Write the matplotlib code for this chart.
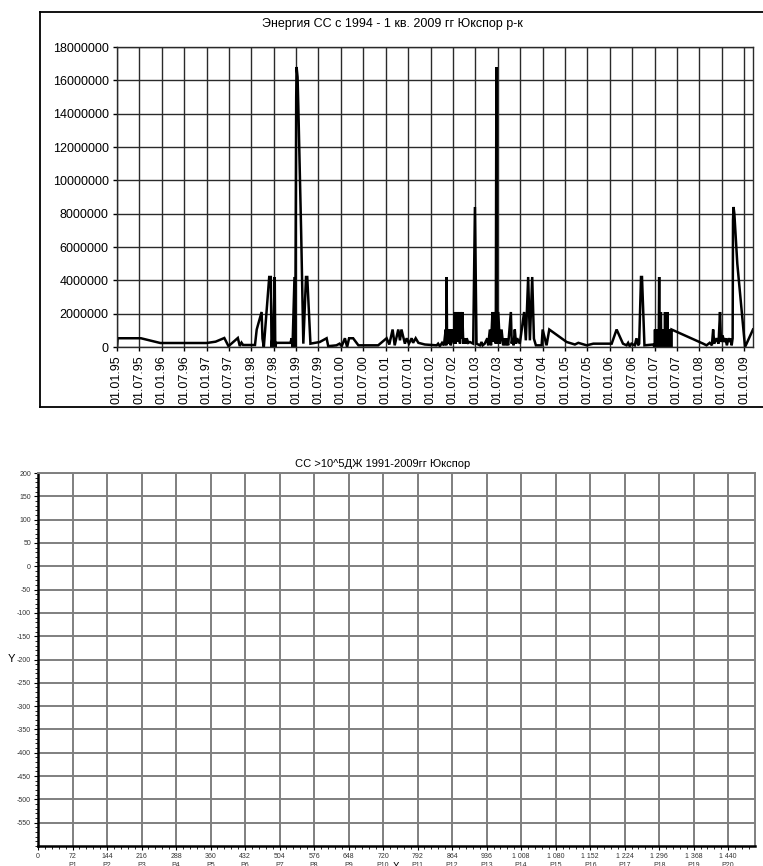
"""Энергия СС (Юкспор) + пустой шаблон графика СС >10^5 ДЖ."""
import numpy as np
import pandas as pd
import matplotlib
matplotlib.use('Agg')
import matplotlib.pyplot as plt
import matplotlib.dates as mdates
from matplotlib.ticker import MultipleLocator, AutoMinorLocator, FuncFormatter

plt.rcParams['font.family'] = ['Liberation Sans', 'DejaVu Sans']
plt.rcParams['axes.unicode_minus'] = False

# --- данные: энергия сейсмических событий, даты и значения ---
dates = [
    '1995-01-01', '1995-01-06', '1995-07-15', '1995-12-20', '1997-01-01', '1997-03-15', '1997-05-25', '1997-06-28',
    '1997-09-12', '1997-09-28', '1997-10-12', '1997-10-25', '1998-01-30', '1998-02-13', '1998-03-25', '1998-04-01',
    '1998-04-12', '1998-05-26', '1998-06-08', '1998-06-14', '1998-06-20', '1998-06-26', '1998-07-10', '1998-07-14',
    '1998-07-22', '1998-11-15', '1998-11-25', '1998-12-02', '1998-12-18', '1998-12-24', '1999-01-01', '1999-01-04',
    '1999-01-12', '1999-01-18', '1999-02-10', '1999-02-28', '1999-03-22', '1999-04-01', '1999-04-27', '1999-07-12',
    '1999-09-06', '1999-09-19', '1999-11-25', '1999-12-20', '2000-01-07', '2000-02-02', '2000-02-20', '2000-03-07',
    '2000-04-09', '2000-05-22', '2000-10-30', '2001-01-07', '2001-01-29', '2001-02-25', '2001-03-14', '2001-04-12',
    '2001-04-26', '2001-05-08', '2001-06-05', '2001-06-19', '2001-07-08', '2001-07-30', '2001-08-11', '2001-09-01',
    '2001-09-23', '2001-11-15', '2002-02-19', '2002-03-03', '2002-03-17', '2002-04-04', '2002-04-19', '2002-05-04',
    '2002-05-08', '2002-05-11', '2002-05-15', '2002-05-25', '2002-06-01', '2002-06-07', '2002-06-14', '2002-06-20',
    '2002-06-27', '2002-07-04', '2002-07-10', '2002-07-17', '2002-07-23', '2002-07-29', '2002-08-04', '2002-08-10',
    '2002-08-16', '2002-08-22', '2002-08-28', '2002-09-03', '2002-09-10', '2002-09-16', '2002-09-24', '2002-10-08',
    '2002-10-15', '2002-10-22', '2002-11-04', '2002-11-17', '2002-12-14', '2002-12-28', '2003-01-10', '2003-02-07',
    '2003-02-20', '2003-03-01', '2003-03-18', '2003-04-08', '2003-04-15', '2003-04-29', '2003-05-08', '2003-05-20',
    '2003-05-26', '2003-06-09', '2003-06-16', '2003-06-21', '2003-06-25', '2003-07-06', '2003-07-19', '2003-08-02',
    '2003-08-15', '2003-08-29', '2003-09-05', '2003-09-12', '2003-09-25', '2003-10-17', '2003-10-24', '2003-10-31',
    '2003-11-08', '2003-11-18', '2003-11-28', '2003-12-07', '2003-12-29', '2004-02-02', '2004-02-16', '2004-03-06',
    '2004-03-20', '2004-04-08', '2004-04-22', '2004-05-08', '2004-06-24', '2004-07-02', '2004-08-03', '2004-08-25',
    '2005-01-14', '2005-03-22', '2005-04-19', '2005-06-26', '2005-08-19', '2005-10-12', '2006-01-16', '2006-02-25',
    '2006-04-18', '2006-05-17', '2006-05-30', '2006-06-12', '2006-06-26', '2006-07-23', '2006-08-06', '2006-08-19',
    '2006-08-28', '2006-09-12', '2006-09-20', '2006-10-10', '2006-12-20', '2007-01-01', '2007-01-04', '2007-01-07',
    '2007-01-10', '2007-01-13', '2007-01-17', '2007-01-20', '2007-01-24', '2007-01-27', '2007-01-31', '2007-02-03',
    '2007-02-07', '2007-02-10', '2007-02-14', '2007-02-17', '2007-02-21', '2007-02-24', '2007-02-28', '2007-03-03',
    '2007-03-07', '2007-03-10', '2007-03-14', '2007-03-17', '2007-03-21', '2007-03-24', '2007-03-27', '2007-03-30',
    '2007-04-03', '2007-04-06', '2007-04-10', '2007-04-12', '2007-04-15', '2007-04-18', '2007-04-22', '2007-04-25',
    '2007-04-29', '2007-05-02', '2007-05-06', '2007-05-09', '2007-05-13', '2007-05-16', '2007-05-19', '2008-02-01',
    '2008-02-28', '2008-03-25', '2008-04-12', '2008-04-22', '2008-05-01', '2008-05-20', '2008-06-05', '2008-06-17',
    '2008-06-25', '2008-07-08', '2008-07-20', '2008-08-01', '2008-08-12', '2008-08-25', '2008-09-08', '2008-09-12',
    '2008-09-20', '2008-09-28', '2008-10-01', '2008-10-05', '2008-10-12', '2008-11-05', '2009-01-07', '2009-03-13',
]
energy = [
    0, 525000, 525000, 240000, 240000, 320000, 540000, 50000,
    540000, 60000, 260000, 120000, 120000, 1050000, 2100000, 500000,
    0, 4200000, 4200000, 0, 500000, 0, 4200000, 0,
    250000, 250000, 525000, 0, 4200000, 0, 15000000, 16800000,
    16200000, 14500000, 7000000, 200000, 4200000, 4200000, 200000, 300000,
    525000, 50000, 100000, 200000, 50000, 525000, 0, 525000,
    525000, 100000, 100000, 525000, 150000, 1050000, 100000, 1050000,
    400000, 1050000, 200000, 525000, 200000, 525000, 250000, 525000,
    250000, 150000, 100000, 200000, 50000, 250000, 100000, 1050000,
    100000, 4200000, 200000, 1050000, 200000, 1050000, 100000, 1050000,
    300000, 1050000, 200000, 2100000, 200000, 2100000, 400000, 2100000,
    300000, 2100000, 200000, 2100000, 500000, 2100000, 200000, 525000,
    200000, 525000, 250000, 300000, 200000, 8400000, 200000, 100000,
    300000, 100000, 200000, 525000, 100000, 1050000, 100000, 2100000,
    300000, 2100000, 200000, 16800000, 200000, 2100000, 200000, 1050000,
    100000, 525000, 100000, 525000, 100000, 2100000, 200000, 525000,
    100000, 1050000, 200000, 525000, 200000, 2100000, 400000, 4200000,
    400000, 4200000, 500000, 100000, 100000, 1050000, 100000, 1050000,
    300000, 150000, 250000, 100000, 200000, 200000, 200000, 1050000,
    200000, 100000, 250000, 50000, 200000, 100000, 525000, 100000,
    200000, 4200000, 4200000, 100000, 150000, 0, 1050000, 0,
    1050000, 100000, 1050000, 0, 1050000, 200000, 1050000, 0,
    4200000, 0, 1050000, 100000, 2100000, 0, 1050000, 0,
    1050000, 100000, 1050000, 0, 1050000, 0, 2100000, 0,
    1050000, 100000, 1050000, 0, 2100000, 0, 1050000, 0,
    1050000, 0, 1050000, 0, 1050000, 0, 1050000, 200000,
    100000, 250000, 100000, 1050000, 200000, 525000, 200000, 2100000,
    300000, 700000, 300000, 525000, 100000, 525000, 300000, 525000,
    100000, 525000, 7600000, 8400000, 8000000, 5000000, 0, 1050000,
]

# нижний график: пустая сетка
bottom_xticks = list(range(0, 1441, 72))
bottom_yticks = list(range(-550, 201, 50))

W, H = 763, 866
fig = plt.figure(figsize=(W / 100, H / 100), dpi=100)

# ---------------- верхний график ----------------
ax1 = fig.add_axes([117 / W, 1 - 347 / H, 636 / W, 300 / H])
t = pd.to_datetime(dates)
ax1.plot(t, energy, color='black', lw=1.8, solid_joinstyle='miter')
ax1.set_xlim(pd.Timestamp('1995-01-01'), pd.Timestamp('2009-03-13'))
ax1.set_ylim(0, 18000000)
ax1.yaxis.set_major_locator(MultipleLocator(2000000))
ax1.yaxis.set_major_formatter(FuncFormatter(lambda v, p: f'{int(v)}'))
ax1.xaxis.set_major_locator(mdates.MonthLocator(bymonth=[1, 7], bymonthday=1))
ax1.xaxis.set_major_formatter(mdates.DateFormatter('%d.%m.%y'))
ax1.grid(True, color='#2a2a2a', lw=1.0)
ax1.set_axisbelow(True)
ax1.tick_params(axis='both', direction='out', length=3, width=1, labelsize=9, pad=3)
for lbl in ax1.get_xticklabels():
    lbl.set_rotation(90)
for s in ax1.spines.values():
    s.set_color('#2a2a2a')
    s.set_linewidth(1.0)

fig.text(392 / W, 1 - 24 / H, 'Энергия СС с 1994 - 1 кв. 2009 гг Юкспор р-к',
         ha='center', va='center', fontsize=9)

# рамка вокруг верхней диаграммы
x0, ytop, ybot = 40 / W, 1 - 12 / H, 1 - 407 / H
fig.add_artist(plt.Line2D([x0, x0], [ybot, ytop], transform=fig.transFigure, color='black', lw=1.3))
fig.add_artist(plt.Line2D([x0, 1.0], [ytop, ytop], transform=fig.transFigure, color='black', lw=1.3))
fig.add_artist(plt.Line2D([x0, 1.0], [ybot, ybot], transform=fig.transFigure, color='black', lw=1.3))

# ---------------- нижний график ----------------
ax2 = fig.add_axes([38 / W, 1 - 846 / H, 717 / W, 373 / H])
ax2.set_xlim(0, 1496)
ax2.set_ylim(-600, 200)
ax2.set_xticks(bottom_xticks)
ax2.set_yticks(bottom_yticks)
ax2.xaxis.set_minor_locator(AutoMinorLocator(5))
ax2.yaxis.set_minor_locator(AutoMinorLocator(5))


def fmt_x(v, pos):
    n = int(round(v))
    s = f'{n:,}'.replace(',', ' ')
    if n == 0:
        return s
    return f'{s}\nP{n // 72}'


ax2.xaxis.set_major_formatter(FuncFormatter(fmt_x))
ax2.grid(True, which='major', color='#7f7f7f', lw=1.4)
ax2.tick_params(axis='both', which='major', direction='out', length=3, width=0.8,
                labelsize=5, pad=2, labelcolor='#333333')
ax2.tick_params(axis='both', which='minor', direction='out', length=2, width=0.6)
for lbl in ax2.get_xticklabels():
    lbl.set_linespacing(1.5)
for side in ['top', 'right']:
    ax2.spines[side].set_color('#7f7f7f')
    ax2.spines[side].set_linewidth(1.4)
for side in ['left', 'bottom']:
    ax2.spines[side].set_color('black')
    ax2.spines[side].set_linewidth(1.8)

ax2.set_title('СС >10^5ДЖ 1991-2009гг Юкспор', fontsize=8, x=0.48, pad=4)
ax2.set_ylabel('Y', rotation=0, fontsize=8, ha='center', va='center')
ax2.yaxis.set_label_coords(-0.037, 0.5)
ax2.set_xlabel('X', fontsize=7, va='top')
ax2.xaxis.set_label_coords(0.5, -0.042)

fig.savefig('out.png', dpi=100)
print('out.png saved')
